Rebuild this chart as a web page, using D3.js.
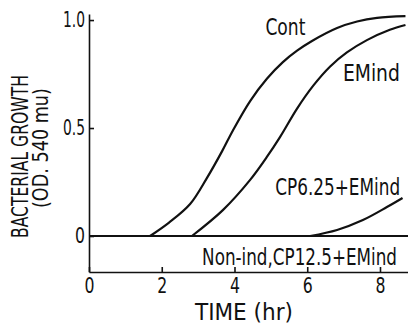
<!DOCTYPE html>
<html>
<head>
<meta charset="utf-8">
<script src="https://cdn.jsdelivr.net/npm/d3@7"></script>
<style>
  body { margin: 0; background: #fff; }
  svg text { font-family: "DejaVu Sans Condensed", "DejaVu Sans", sans-serif; fill: #111; }
</style>
</head>
<body>
<div id="root"></div>
<script>
// Constant. SVG coordinate system
const width = 408;
const height = 325;

// Data (time in hr, OD 540 mu)
const contTime = [1.68, 2.2, 2.78, 3.24, 3.66, 3.96, 4.43, 4.89, 5.33, 5.72, 6.13, 6.82, 7.37, 7.92, 8.7];
const contOD   = [0, 0.062, 0.148, 0.268, 0.393, 0.49, 0.625, 0.728, 0.805, 0.858, 0.903, 0.963, 0.993, 1.01, 1.018];

const emTime = [2.83, 3.68, 4.43, 4.89, 5.25, 5.72, 6.16, 6.63, 7.09, 7.64, 8.27, 8.7];
const emOD   = [0, 0.12, 0.26, 0.366, 0.458, 0.59, 0.695, 0.785, 0.85, 0.907, 0.955, 0.977];

const cpTime = [6.08, 6.82, 7.53, 8.19, 8.62];
const cpOD   = [0, 0.028, 0.074, 0.134, 0.176];

const nonTime = [0, 8.8];
const nonOD   = [0, 0];

const xTicks = [0, 2, 4, 6, 8];
const yTicks = [0, 0.5, 1.0];
const yTickLabels = ["0", "0.5", "1.0"];

const series = [
  {id: "Cont", t: contTime, v: contOD},
  {id: "EMind", t: emTime, v: emOD},
  {id: "CP6.25+EMind", t: cpTime, v: cpOD},
  {id: "Non-ind,CP12.5+EMind", t: nonTime, v: nonOD}
];

const svg = d3.select("#root")
  .append("svg")
  .attr("width", width)
  .attr("height", height);

const xScale = d3.scaleLinear()
  .domain([0, 8])
  .range([89, 380]);

const yScale = d3.scaleLinear()
  .domain([-0.1667, 1.028])
  .range([272, 14]);

// squeeze a text to a given width (the original lettering is narrow)
function squeeze(sel, w) {
  sel.each(function() {
    const n = this.getComputedTextLength();
    const t = d3.select(this);
    const base = t.attr("transform") || "";
    const x = +t.attr("x") || 0;
    t.attr("transform", `${base} translate(${x},0) scale(${w / n},1) translate(${-x},0)`);
  });
}

// Axes, ticks pointing inward
svg.append("g")
  .attr("transform", `translate(0, ${yScale(-0.1667)})`)
  .call(d3.axisBottom(xScale.copy().domain([0, 8.77]).range([89, 408]))
    .tickValues(xTicks).tickSizeInner(-5).tickSizeOuter(0).tickPadding(6)
    .tickFormat(d3.format("d")));

svg.append("g")
  .attr("transform", `translate(${xScale(0)}, 0)`)
  .call(d3.axisLeft(yScale)
    .tickValues(yTicks).tickSizeInner(-5).tickSizeOuter(0).tickPadding(4)
    .tickFormat((d, i) => yTickLabels[i]));

svg.selectAll(".domain, .tick line")
  .attr("stroke", "#111")
  .attr("stroke-width", 1.6);

svg.selectAll(".tick text")
  .style("font-size", "21px")
  .attr("fill", "#111")
  .each(function() {
    squeeze(d3.select(this), this.textContent.length > 1 ? 22 : 10);
  });

// Curves
const line = d3.line()
  .x(d => xScale(d[0]))
  .y(d => yScale(d[1]))
  .curve(d3.curveCatmullRom.alpha(0.5));

svg.append("g")
  .selectAll("path")
  .data(series)
  .enter().append("path")
    .attr("d", s => line(s.t.map((t, i) => [t, s.v[i]])))
    .attr("fill", "none")
    .attr("stroke", "#111")
    .attr("stroke-width", s => s.id.startsWith("Non") ? 1.8 : 2.2);

// Curve labels
const labels = [
  {text: "Cont", x: 4.85, y: 0.93, w: 40},
  {text: "EMind", x: 6.98, y: 0.72, w: 57},
  {text: "CP6.25+EMind", x: 5.12, y: 0.19, w: 125},
  {text: "Non-ind,CP12.5+EMind", x: 3.11, y: -0.135, w: 195}
];

svg.append("g")
  .selectAll("text")
  .data(labels)
  .enter().append("text")
    .attr("x", d => xScale(d.x))
    .attr("y", d => yScale(d.y))
    .style("font-size", "23px")
    .text(d => d.text)
    .each(function(d) { squeeze(d3.select(this), d.w); });

// Axis titles
svg.append("text")
  .attr("x", 195)
  .attr("y", 320)
  .style("font-size", "23px")
  .text("TIME (hr)")
  .call(squeeze, 98);

svg.append("text")
  .attr("transform", `translate(28, 238) rotate(-90)`)
  .style("font-size", "23px")
  .text("BACTERIAL GROWTH")
  .call(squeeze, 163);

svg.append("text")
  .attr("transform", `translate(48, 208) rotate(-90)`)
  .style("font-size", "21px")
  .text("(OD. 540 mu)")
  .call(squeeze, 120);
</script>
</body>
</html>
